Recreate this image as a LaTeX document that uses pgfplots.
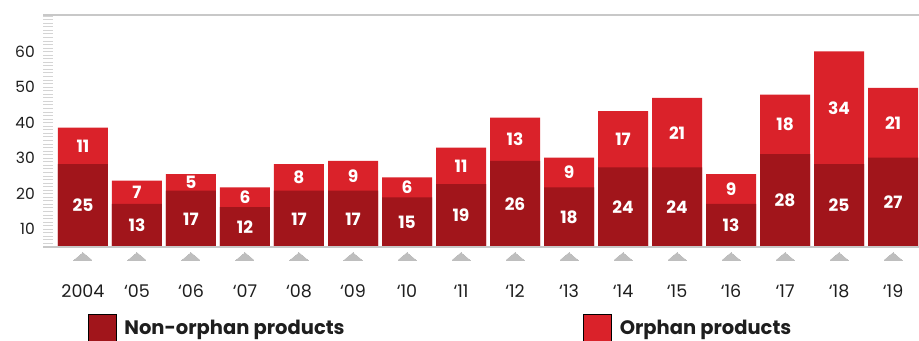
\documentclass[border=0pt]{standalone}
\usepackage{pgfplots}
\pgfplotsset{compat=1.18}
\usepackage{pgfplotstable}
\usepackage{fontspec}
\setmainfont{Poppins}
\definecolor{nonorph}{RGB}{161,21,27}
\definecolor{orph}{RGB}{218,34,42}
\definecolor{tri}{RGB}{190,190,190}
\definecolor{rulec}{RGB}{200,200,200}
\definecolor{tickc}{RGB}{212,212,212}
\definecolor{txt}{RGB}{30,30,30}
\pgfplotstableread{
idx non orph
0 25 11
1 13 7
2 17 5
3 12 6
4 17 8
5 17 9
6 15 6
7 19 11
8 26 13
9 18 9
10 24 17
11 24 21
12 13 9
13 28 18
14 25 34
15 27 21
}\data
\begin{document}
\begin{tikzpicture}
\begin{axis}[
  at={(43bp,94bp)}, anchor=south west,
  scale only axis, width=876bp, height=232bp,
  xmin=-0.74, xmax=15.48, ymin=0, ymax=70,
  axis line style={draw=none},
  clip=false,
  /pgf/number format/assume math mode=true,
  xtick={0,...,15},
  xticklabels={2004,‘05,‘06,‘07,‘08,‘09,‘10,‘11,‘12,‘13,‘14,‘15,‘16,‘17,‘18,‘19},
  tick style={color=tickc, line width=1bp},
  xtick style={draw=none},
  xticklabel style={anchor=base, yshift=-50bp, font=\fontsize{17.5bp}{20bp}\selectfont, text=txt},
  ytick={5.34,16.06,26.78,37.50,48.22,58.94},
  yticklabels={10,20,30,40,50,60},
  minor ytick={1.052,2.124,...,69.7},
  ytick pos=left,
  tick align=inside,
  major tick length=10.5bp, minor tick length=10.5bp,
  yticklabel style={anchor=east, inner sep=0pt, xshift=-8bp, font=\fontsize{15.5bp}{18bp}\selectfont, text=txt},
  legend columns=2,
  legend cell align=left,
  legend style={at={(axis description cs:0.05137,-0.2880)}, anchor=north west,
    draw=none, fill=none, inner sep=0pt, outer sep=0pt,
    nodes={inner sep=0pt},
    font=\bfseries\fontsize{19.5bp}{21bp}\selectfont, text=txt,
    /tikz/every odd column/.append style={column sep=8bp},
    /tikz/every even column/.append style={column sep=0bp}},
  legend image code/.code={\fill[#1] (0bp,-14bp) rectangle (28bp,14bp);},
]
\addlegendimage{fill=nonorph}
\addlegendentry{\makebox[459bp][l]{Non-orphan products}}
\addlegendimage{fill=orph}
\addlegendentry{Orphan products}

\addplot[forget plot, ybar, bar width=50bp, bar shift=0pt, fill=orph, draw=none]
  table[x=idx, y expr=\thisrow{non}+\thisrow{orph}] {\data};
\addplot[forget plot, ybar, bar width=50bp, bar shift=0pt, fill=nonorph, draw=none]
  table[x=idx, y=non] {\data};

\addplot[forget plot, draw=none, mark=none, nodes near coords, point meta=explicit,
  every node near coord/.append style={anchor=center, text=white, font=\bfseries\fontsize{17bp}{20bp}\selectfont}]
  table[x=idx, y expr=\thisrow{non}/2, meta=non] {\data};
\addplot[forget plot, draw=none, mark=none, nodes near coords, point meta=explicit,
  every node near coord/.append style={anchor=center, text=white, font=\bfseries\fontsize{17bp}{20bp}\selectfont}]
  table[x=idx, y expr=\thisrow{non}+\thisrow{orph}/2, meta=orph] {\data};

\addplot[forget plot, only marks, mark=triangle*, mark size=10.4bp, color=tri, mark options={yscale=0.48, fill=tri, draw=tri, line width=0pt}]
  coordinates {(0,-3.17) (1,-3.17) (2,-3.17) (3,-3.17) (4,-3.17) (5,-3.17) (6,-3.17) (7,-3.17)
               (8,-3.17) (9,-3.17) (10,-3.17) (11,-3.17) (12,-3.17) (13,-3.17) (14,-3.17) (15,-3.17)};

\draw[rulec, line width=2.2bp] (rel axis cs:0,0) -- (rel axis cs:1,0);
\draw[rulec, line width=2bp] (rel axis cs:0,1) -- (rel axis cs:1,1);
\end{axis}
\pgfresetboundingbox
\useasboundingbox (0,0) rectangle (919bp,341bp);
\end{tikzpicture}
\end{document}
